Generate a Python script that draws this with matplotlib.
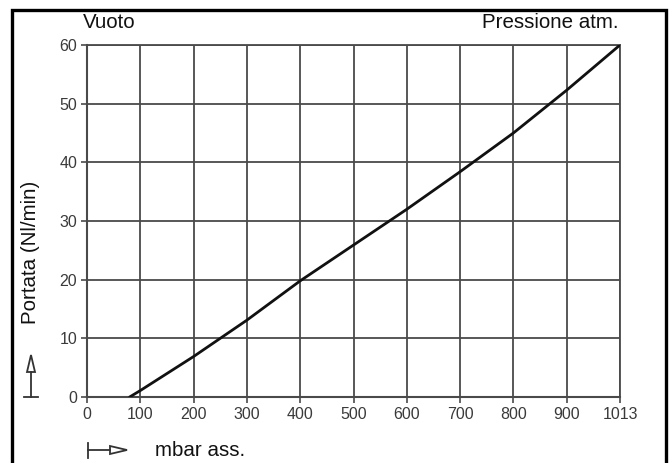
import numpy as np
import matplotlib.pyplot as plt
from matplotlib import font_manager
from matplotlib.patches import Rectangle, Polygon
from matplotlib.lines import Line2D

# pressure (mbar abs.) vs flow rate (Nl/min)
pressione = [80, 100, 200, 300, 400, 500, 600, 700, 800, 900, 1013]
portata = [0.0, 1.1, 6.9, 13.1, 19.8, 25.9, 32.0, 38.4, 45.0, 52.3, 60.0]

x_tick_values = [0, 100, 200, 300, 400, 500, 600, 700, 800, 900, 1013]
x_tick_labels = ["0", "100", "200", "300", "400", "500", "600", "700", "800", "900", "1013"]
y_ticks = [0, 10, 20, 30, 40, 50, 60]

# the last grid column is drawn at the same width as the others
x_slots = np.arange(len(x_tick_values)) * 100


def to_slot(p):
    return np.interp(p, x_tick_values, x_slots)


# narrow face for the tick numbers if there is one
try:
    font_manager.findfont(font_manager.FontProperties(family="Liberation Sans Narrow"),
                          fallback_to_default=False)
    tick_family, tick_size = "Liberation Sans Narrow", 13.5
except ValueError:
    tick_family, tick_size = "Liberation Sans", 11.5

fig = plt.figure(figsize=(6.72, 4.63), dpi=100)
ax = fig.add_axes([87 / 672, 1 - 397 / 463, 533 / 672, 352 / 463])

grid_c = "#4a4a4a"
ax.plot(to_slot(pressione), portata, color="#111111", lw=2.0, solid_capstyle="round", zorder=3)

ax.set_xlim(0, 1000)
ax.set_ylim(0, 60)
ax.set_xticks(x_slots)
ax.set_xticklabels(x_tick_labels)
ax.set_yticks(y_ticks)
ax.grid(True, color=grid_c, lw=1.3)
for side, sp in ax.spines.items():
    sp.set_color(grid_c)
    sp.set_linewidth(1.5 if side in ("left", "bottom") else 1.3)
ax.tick_params(direction="out", length=4, width=1.2, color=grid_c,
               labelcolor="#3a3a3a", labelsize=tick_size, pad=3)
for lab in ax.get_xticklabels() + ax.get_yticklabels():
    lab.set_family(tick_family)

txt = dict(family="Liberation Sans", fontsize=14.8, color="#111111")
fig.text(83 / 672, 1 - 22 / 463, "Vuoto", ha="left", va="center", **txt)
fig.text(619 / 672, 1 - 22 / 463, "Pressione atm.", ha="right", va="center", **txt)
fig.text(30 / 672, 1 - 252 / 463, "Portata (Nl/min)", rotation=90, ha="center", va="center", **txt)
fig.text(155 / 672, 1 - 450 / 463, "mbar ass.", ha="left", va="center", **txt)


def px(x, y):
    return (x / 672, 1 - y / 463)


sym = dict(color="#333333", lw=1.3, transform=fig.transFigure)
# vertical flow arrow next to the y label
fig.add_artist(Line2D([px(24, 0)[0], px(38, 0)[0]], [px(0, 397)[1]] * 2, **sym))
fig.add_artist(Line2D([px(31, 0)[0]] * 2, [px(0, 397)[1], px(0, 372)[1]], **sym))
fig.add_artist(Polygon([px(27, 372), px(35, 372), px(31, 355)], closed=True,
                       fill=False, edgecolor="#333333", lw=1.3, transform=fig.transFigure))
# horizontal pressure arrow next to the x label
fig.add_artist(Line2D([px(88, 0)[0]] * 2, [px(0, 443)[1], px(0, 458)[1]], **sym))
fig.add_artist(Line2D([px(88, 0)[0], px(110, 0)[0]], [px(0, 450)[1]] * 2, **sym))
fig.add_artist(Polygon([px(110, 446), px(110, 454), px(127, 450)], closed=True,
                       fill=False, edgecolor="#333333", lw=1.3, transform=fig.transFigure))

# outer frame, its bottom edge falls outside the image
fig.add_artist(Rectangle(px(12, 475), 654 / 672, 465 / 463, fill=False,
                         edgecolor="black", lw=2.4, transform=fig.transFigure))

fig.savefig("out.png", dpi=100)
